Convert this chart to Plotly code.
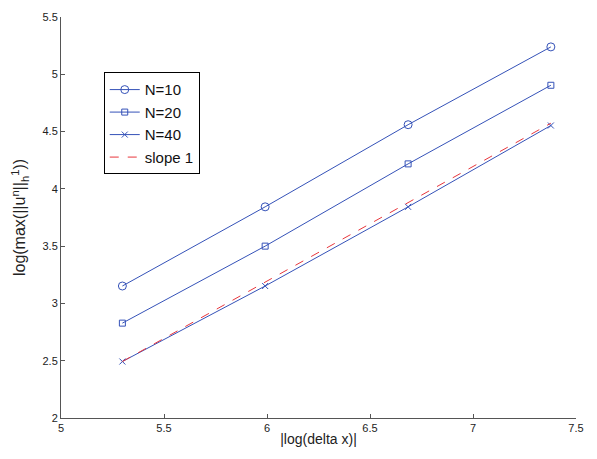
import plotly.graph_objects as go

x = [5.298, 5.991, 6.685, 7.378]
n10 = [3.152, 3.843, 4.560, 5.239]
n20 = [2.828, 3.500, 4.218, 4.904]
n40 = [2.493, 3.152, 3.843, 4.553]
slope_x = [5.298, 7.378]
slope_y = [2.493, 4.573]

blue = "#3552b8"
red = "#e8363c"

fig = go.Figure()
fig.add_trace(go.Scatter(x=x, y=n10, mode="lines+markers", name="N=10",
                         line=dict(color=blue, width=1),
                         marker=dict(symbol="circle-open", size=8, color=blue, line=dict(width=1))))
fig.add_trace(go.Scatter(x=x, y=n20, mode="lines+markers", name="N=20",
                         line=dict(color=blue, width=1),
                         marker=dict(symbol="square-open", size=6, color=blue, line=dict(width=1))))
fig.add_trace(go.Scatter(x=x, y=n40, mode="lines+markers", name="N=40",
                         line=dict(color=blue, width=1),
                         marker=dict(symbol="x-thin-open", size=6, color=blue, line=dict(width=1, color=blue))))
fig.add_trace(go.Scatter(x=slope_x, y=slope_y, mode="lines", name="slope 1",
                         line=dict(color=red, width=1, dash="dash")))

axis_common = dict(showgrid=False, zeroline=False, showline=True, linecolor="#555555",
                   linewidth=1, ticks="inside", ticklen=4, tickcolor="#555555",
                   tickfont=dict(size=11, color="#222222", family="Liberation Sans, Arial"),
                   mirror=False)

fig.update_layout(
    width=597, height=459,
    margin=dict(l=61, r=21, t=11, b=41),
    paper_bgcolor="white", plot_bgcolor="white",
    font=dict(family="Liberation Sans, Arial", color="#222222"),
    xaxis=dict(range=[5, 7.5], tickvals=[5, 5.5, 6, 6.5, 7, 7.5],
               ticktext=["5", "5.5", "6", "6.5", "7", "7.5"],
               title=dict(text="|log(delta x)|", font=dict(size=14), standoff=0), **axis_common),
    yaxis=dict(range=[2, 5.5], tickvals=[2, 2.5, 3, 3.5, 4, 4.5, 5, 5.5],
               ticktext=["2", "2.5", "3", "3.5", "4", "4.5", "5", "5.5"],
               title=dict(text="log(max(||u<sup>n</sup>||<sub>h</sub><sup>1</sup>))", font=dict(size=16), standoff=12),
               **axis_common),
    legend=dict(x=0.083, y=0.862, xanchor="left", yanchor="top",
                bordercolor="black", borderwidth=1, bgcolor="white",
                font=dict(size=15, color="#111111"), tracegroupgap=0, itemwidth=30),
    showlegend=True,
)

fig.write_html("out.html")
